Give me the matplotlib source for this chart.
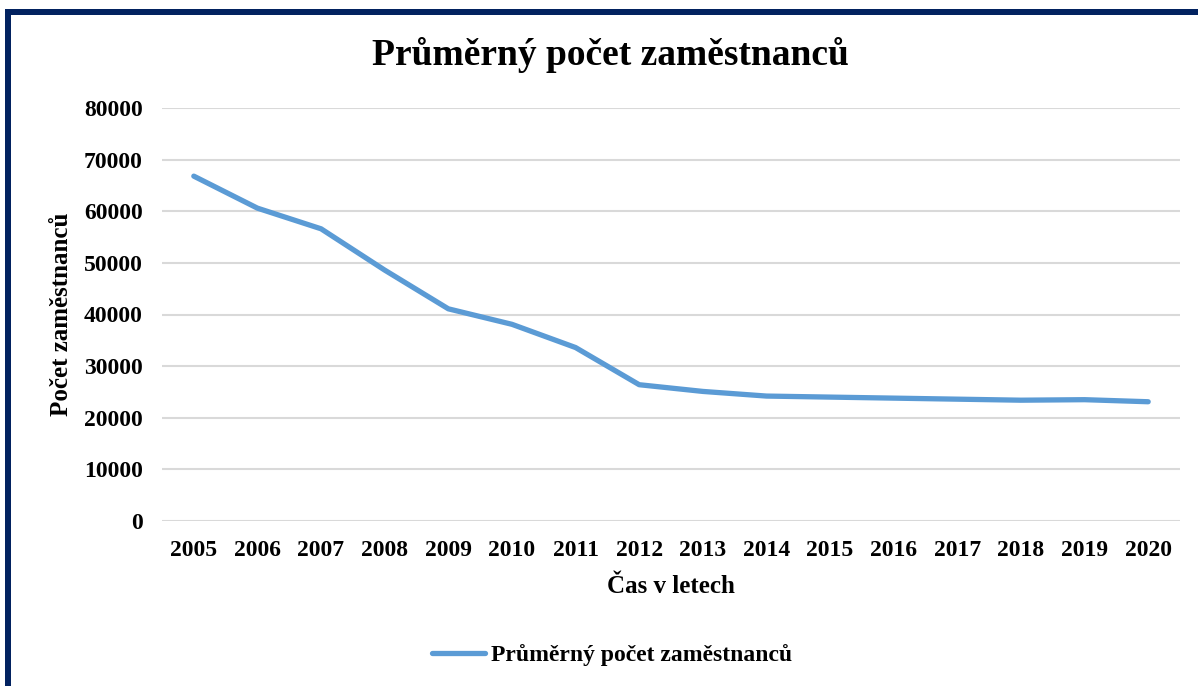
import matplotlib
matplotlib.use("Agg")
import matplotlib.pyplot as plt
from matplotlib.patches import Rectangle

years = ["2005", "2006", "2007", "2008", "2009", "2010", "2011", "2012",
         "2013", "2014", "2015", "2016", "2017", "2018", "2019", "2020"]
employees = [66800, 60600, 56600, 48600, 41100, 38100, 33600, 26400,
             25100, 24200, 24000, 23800, 23600, 23400, 23500, 23100]
yticks = [0, 10000, 20000, 30000, 40000, 50000, 60000, 70000, 80000]

title = "Průměrný počet zaměstnanců"
series_name = "Průměrný počet zaměstnanců"
xlabel = "Čas v letech"
ylabel = "Počet zaměstnanců"

plt.rcParams['font.family'] = ['Liberation Serif', 'DejaVu Serif']
plt.rcParams['font.weight'] = 'bold'

W, H = 1198, 686
fig = plt.figure(figsize=(W / 100, H / 100), dpi=100)
fig.patch.set_facecolor('white')

# navy frame (top and left edges visible)
navy = '#022260'
fig.patches.append(Rectangle((5 / W, 1 - 15 / H), 1.2, 6 / H, transform=fig.transFigure,
                             facecolor=navy, edgecolor='none'))
fig.patches.append(Rectangle((5 / W, -0.2), 6 / W, 1 - 9 / H + 0.2, transform=fig.transFigure,
                             facecolor=navy, edgecolor='none'))

ax = fig.add_axes([162 / W, 1 - 521 / H, (1180 - 162) / W, (521 - 108) / H])
x = list(range(len(years)))
ax.plot(x, employees, color='#5B9BD5', linewidth=3.8, solid_capstyle='round',
        solid_joinstyle='round', label=series_name, zorder=3)

ax.set_xlim(-0.5, len(years) - 0.5)
ax.set_ylim(0, 80000)
ax.set_yticks(yticks)
ax.set_yticklabels([str(v) for v in yticks])
ax.set_xticks(x)
ax.set_xticklabels(years)
ax.tick_params(axis='both', length=0, labelsize=17)
ax.tick_params(axis='y', pad=14)
ax.tick_params(axis='x', pad=14)
for lbl in ax.get_xticklabels() + ax.get_yticklabels():
    lbl.set_fontweight('bold')
ax.grid(axis='y', color='#D9D9D9', linewidth=1.5)
ax.set_axisbelow(True)
for s in ax.spines.values():
    s.set_visible(False)

ax.set_xlabel(xlabel, fontsize=18, fontweight='bold', labelpad=10)
ax.set_ylabel(ylabel, fontsize=18, fontweight='bold', labelpad=8)

fig.text(610 / W, 1 - 55 / H, title, fontsize=27,
         fontweight='bold', ha='center', va='center')

fig.legend(loc='center', bbox_to_anchor=(612 / W, 1 - 655 / H), frameon=False,
           handlelength=2.25, handletextpad=0.25,
           prop={'weight': 'bold', 'size': 17})

fig.savefig('out.png', dpi=100, facecolor='white')
